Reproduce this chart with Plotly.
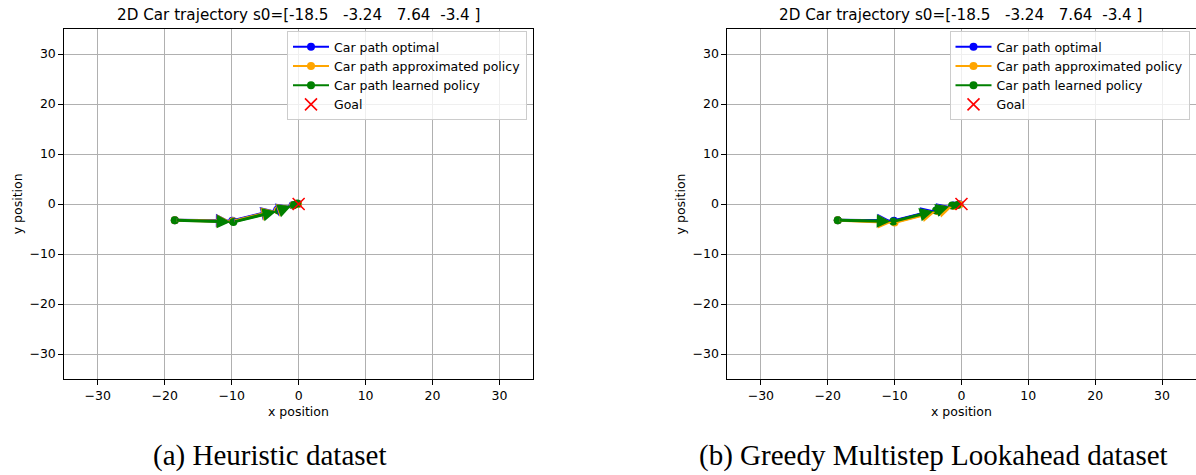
import plotly.graph_objects as go

W, H = 1196, 475

# Car paths for each dataset (x, y positions at each step)
opt_x_a = [-18.5, -9.9, -3.2, -0.9, -0.1]
opt_y_a = [-3.24, -3.35, -1.15, -0.25, 0.0]
apx_x_a = [-18.5, -9.8, -3.1, -0.8, -0.1]
apx_y_a = [-3.24, -3.45, -1.25, -0.25, 0.0]
lrn_x_a = [-18.5, -9.75, -2.94, -0.7, -0.2]
lrn_y_a = [-3.24, -3.6, -1.35, -0.2, 0.1]

opt_x_b = [-18.5, -10.1, -3.6, -1.2, -0.3]
opt_y_b = [-3.24, -3.35, -1.15, -0.3, -0.05]
apx_x_b = [-18.5, -10.0, -3.5, -1.0, -0.3]
apx_y_b = [-3.24, -3.7, -1.45, -0.4, -0.1]
lrn_x_b = [-18.5, -10.2, -3.8, -1.4, -0.6]
lrn_y_b = [-3.24, -3.5, -1.3, -0.3, -0.2]

goal_x = [0.0]
goal_y = [0.0]

title_text = "2D Car trajectory s0=[-18.5\u00a0\u00a0\u00a0-3.24\u00a0\u00a0\u00a07.64\u00a0\u00a0-3.4\u00a0]"
captions = ["(a) Heuristic dataset", "(b) Greedy Multistep Lookahead dataset"]
series_names = ["Car path optimal", "Car path approximated policy", "Car path learned policy"]
series_colors = ["blue", "orange", "green"]

axis_range = [-35, 35]
tick_vals = [-30, -20, -10, 0, 10, 20, 30]

# panel geometry in pixels
panels = [
    dict(x0=64.3, x1=533.0),
    dict(x0=727.4, x1=1195.5),
]
y_top, y_bot = 29.0, 379.0

data_sets = [
    [(opt_x_a, opt_y_a), (apx_x_a, apx_y_a), (lrn_x_a, lrn_y_a)],
    [(opt_x_b, opt_y_b), (apx_x_b, apx_y_b), (lrn_x_b, lrn_y_b)],
]

fig = go.Figure()
annotations = []
font = "DejaVu Sans"

for p, (panel, paths) in enumerate(zip(panels, data_sets)):
    sfx = "" if p == 0 else str(p + 1)
    xa, ya = "x" + sfx, "y" + sfx
    leg = "legend" + sfx
    for (xs, ys), name, col in zip(paths, series_names, series_colors):
        fig.add_trace(go.Scatter(
            x=xs, y=ys, mode="lines+markers", name=name,
            line=dict(color=col, width=2),
            marker=dict(color=col, size=8),
            xaxis=xa, yaxis=ya, legend=leg,
        ))
        # direction arrows between consecutive steps
        for i in range(len(xs) - 1):
            annotations.append(dict(
                x=xs[i + 1], y=ys[i + 1], ax=xs[i], ay=ys[i],
                xref=xa, yref=ya, axref=xa, ayref=ya,
                showarrow=True, text="", arrowhead=2, arrowsize=0.9,
                arrowwidth=3, arrowcolor=col, standoff=3,
            ))
    fig.add_trace(go.Scatter(
        x=goal_x, y=goal_y, mode="markers", name="Goal",
        marker=dict(symbol="x-thin", size=12, color="red",
                    line=dict(color="red", width=1.6)),
        xaxis=xa, yaxis=ya, legend=leg,
    ))

    dom_x = [panel["x0"] / W, panel["x1"] / W]
    dom_y = [1 - y_bot / H, 1 - y_top / H]
    axis_common = dict(
        range=axis_range, tickvals=tick_vals, showgrid=True,
        gridcolor="#b0b0b0", gridwidth=1, zeroline=False,
        showline=True, mirror=True, linecolor="black", linewidth=1,
        ticks="outside", ticklen=5, tickcolor="black", tickwidth=1,
        tickfont=dict(family=font, size=12.5, color="black"),
        fixedrange=True,
    )
    fig.layout["xaxis" + sfx] = dict(domain=dom_x, anchor=ya, **axis_common)
    fig.layout["yaxis" + sfx] = dict(domain=dom_y, anchor=xa, **axis_common)

    cx = (panel["x0"] + panel["x1"]) / 2 / W
    annotations.append(dict(
        text=title_text, x=cx, y=1 - 15 / H, xref="paper", yref="paper",
        showarrow=False, xanchor="center", yanchor="middle",
        font=dict(family=font, size=15.2, color="black"),
    ))
    annotations.append(dict(
        text="x position", x=cx, y=1 - 411 / H, xref="paper", yref="paper",
        showarrow=False, xanchor="center", yanchor="middle",
        font=dict(family=font, size=12.5, color="black"),
    ))
    annotations.append(dict(
        text="y position", x=(panel["x0"] - 47) / W, y=1 - 204 / H,
        xref="paper", yref="paper", showarrow=False, textangle=-90,
        xanchor="center", yanchor="middle",
        font=dict(family=font, size=12.5, color="black"),
    ))
    cap_cx = [270, 933][p]
    annotations.append(dict(
        text=captions[p], x=cap_cx / W, y=1 - 455 / H, xref="paper", yref="paper",
        showarrow=False, xanchor="center", yanchor="middle", borderpad=0,
        font=dict(family="Liberation Serif", size=29, color="black"),
    ))

    fig.layout[leg] = dict(
        x=(panel["x1"] - 6) / W, y=1 - 31 / H, xanchor="right", yanchor="top",
        bgcolor="rgba(255,255,255,0.8)", bordercolor="#cccccc", borderwidth=1,
        font=dict(family=font, size=12.5, color="black"),
        tracegroupgap=0, itemwidth=36,
    )

fig.update_layout(
    width=W, height=H, margin=dict(l=0, r=0, t=0, b=0),
    paper_bgcolor="white", plot_bgcolor="white",
    annotations=annotations, showlegend=True,
)

fig.write_html("out.html")
